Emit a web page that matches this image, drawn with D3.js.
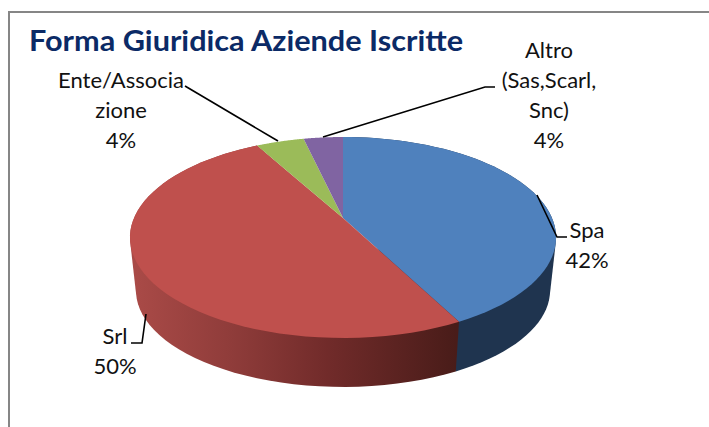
<!DOCTYPE html>
<html><head><meta charset="utf-8">
<script src="https://cdn.jsdelivr.net/npm/d3@7"></script>
<style>html,body{margin:0;padding:0;background:#fff}svg{display:block}text{font-family:Lato,"Open Sans",sans-serif}</style>
</head><body><div id="c"></div>
<script>
const categories = ["Spa","Srl","Ente/Associazione","Altro (Sas,Scarl, Snc)"];
const values = [42.4,49.6,4.4,3.6];
const topColors = ["#4f81bd","#bf504d","#9bbb59","#8064a2"];
const titleText = "Forma Giuridica Aziende Iscritte";
const labelLines = [["Spa"],["Srl"],["Ente/Associa","zione"],["Altro","(Sas,Scarl,","Snc)"]];

const W=709,H=427;
const svg=d3.select("#c").append("svg").attr("width",W).attr("height",H);
const defs=svg.append("defs");
const g=defs.append("linearGradient").attr("id","redSide").attr("gradientUnits","userSpaceOnUse")
  .attr("x1",136).attr("x2",456).attr("y1",0).attr("y2",0);
[[0,"#a94a47"],[0.3,"#8f3c3a"],[0.6,"#712b2a"],[1,"#491c19"]].forEach(s=>g.append("stop").attr("offset",s[0]).attr("stop-color",s[1]));

// frame
svg.append("path").attr("d",`M${W} 12H9V${H}`).attr("fill","none").attr("stroke","#868686").attr("stroke-width",2);

// perspective projection of the pie disc
const k=-0.194;
const sx=d3.scaleLinear().domain([-1,1]).range([343-209,343+209]);
const sy=d3.scaleLinear().domain([-1,1]).range([218-96.7,218+96.7]);
const rim=a=>{const u=Math.sin(a),v=-Math.cos(a),d=1+k*v;return [sx(u/d),sy(v/d)];};
const apex=[sx(0),sy(0)];
const lowX=d3.scaleLinear().domain([343-213,343+213]).range([343-207,343+207]);
const lowY=d3.scaleLinear().domain([137,338]).range([194,387]);
const low=p=>[lowX(p[0]),lowY(p[1])];

const arcs=d3.pie().sort(null).startAngle(0).endAngle(2*Math.PI)(values);
const samples=(a0,a1)=>d3.range(0,61).map(i=>a0+(a1-a0)*i/60);
const line=d3.line().curve(d3.curveLinearClosed);

// side wall (only the two front slices are visible)
const sideFill=["#1f344f","url(#redSide)"];
[0,1].forEach(i=>{
  const pts=samples(arcs[i].startAngle,arcs[i].endAngle).map(rim);
  const hull=d3.polygonHull(pts.concat(pts.map(low)));
  svg.append("path").attr("d",line(hull)).attr("fill",sideFill[i]);
});
// top face
arcs.forEach((d,i)=>{
  const pts=[apex].concat(samples(d.startAngle,d.endAngle).map(rim));
  svg.append("path").attr("d",line(pts)).attr("fill",topColors[i]);
});

// leaders
[
 [[537,195],[557,237],[567,237]],
 [[146,314],[142,343],[131,343]],
 [[278,141],[185,86]],
 [[323,137],[485,87],[495,87]]
].forEach(p=>svg.append("path").attr("d",d3.line()(p)).attr("fill","none").attr("stroke","#000").attr("stroke-width",1.6));

// title
svg.append("text").attr("x",29).attr("y",51).attr("font-size",29).attr("font-weight",700).attr("fill","#0b2a66")
  .attr("textLength",434).attr("lengthAdjust","spacingAndGlyphs").text(titleText);

// labels
const pct=v=>d3.format(".0f")(v)+"%";
const pos=[{x:587,y:[238,268]},{x:115,y:[344,374]},{x:121,y:[88,118,148]},{x:549,y:[58,88,118,148]}];
labelLines.forEach((ls,i)=>{
  ls.concat([pct(values[i])]).forEach((t,j)=>{
    svg.append("text").attr("x",pos[i].x).attr("y",pos[i].y[j]).attr("text-anchor","middle")
      .attr("font-size",22).attr("fill","#111").text(t);
  });
});
</script></body></html>
